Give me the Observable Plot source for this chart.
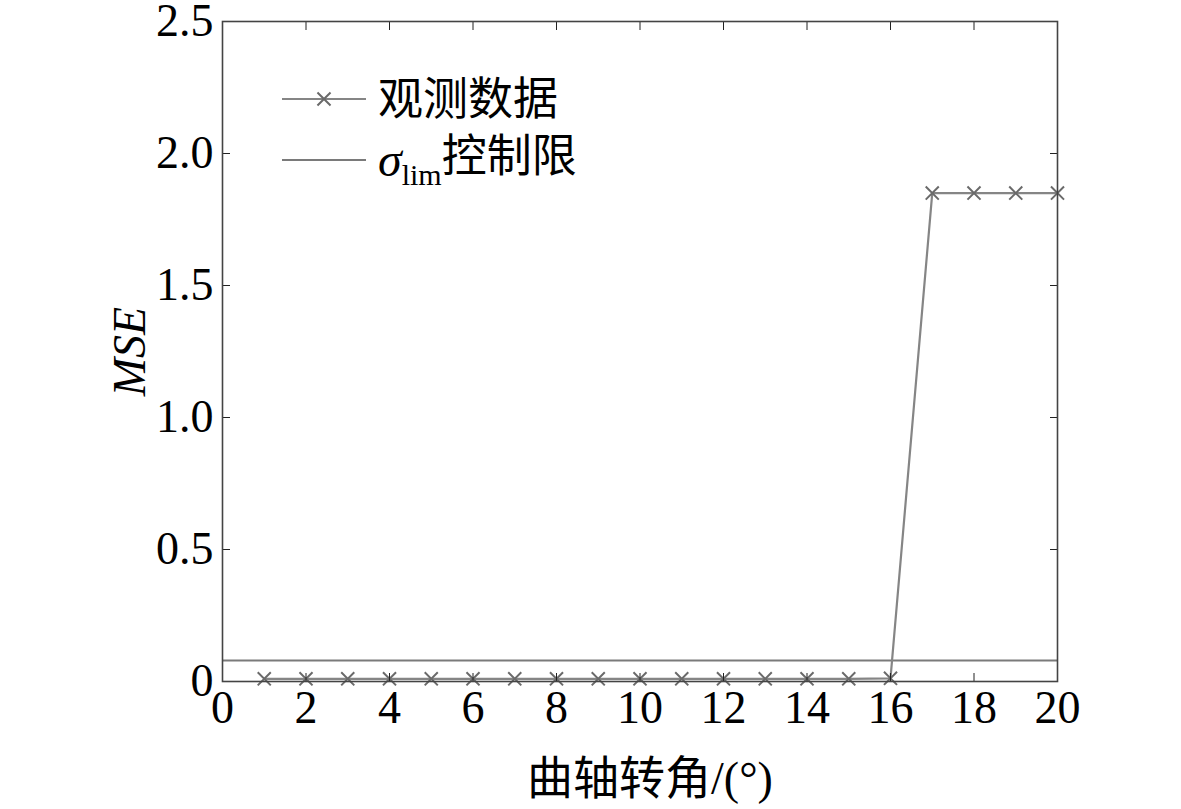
<!DOCTYPE html>
<html><head><meta charset="utf-8">
<script src="https://cdn.jsdelivr.net/npm/d3@7"></script>
<script src="https://cdn.jsdelivr.net/npm/@observablehq/plot@0.6"></script>
<style>
body{margin:0;background:#fff}
#wrap{position:relative;width:1181px;height:809px;overflow:hidden}
#wrap > svg.chart{position:absolute;left:0;top:0;overflow:visible}
#legend{position:absolute;left:0;top:0;pointer-events:none}
g[aria-label="y-axis label"] text{font-style:italic}
</style></head><body>
<div id="wrap"></div>
<script>
// ---- data ----
const angles = [1,2,3,4,5,6,7,8,9,10,11,12,13,14,15,16,17,18,19,20];
const mseValues = [0.01,0.01,0.01,0.01,0.01,0.01,0.01,0.01,0.01,0.01,0.01,0.01,0.01,0.01,0.01,0.012,1.85,1.85,1.85,1.85];
const limitValue = 0.08;
const xTicks = [0,2,4,6,8,10,12,14,16,18,20];
const yTicks = [0,0.5,1,1.5,2,2.5];
const yTickLabels = ["0","0.5","1.0","1.5","2.0","2.5"];
const seriesNames = ["观测数据","控制限"];
const xLabel = "曲轴转角/(°)";
const yLabel = "MSE";

const data = angles.map((a,i)=>({angle:a, mse:mseValues[i]}));
const serif = "'Liberation Serif','Times New Roman','Noto Sans CJK SC',serif";
const fs = 46;

const chart = Plot.plot({
  width:1181, height:809,
  marginLeft:222, marginRight:124, marginTop:21, marginBottom:128,
  x:{domain:[0,20]},
  y:{domain:[0,2.5]},
  style:{fontFamily:serif, fontSize:fs+"px", color:"#000", background:"#fff"},
  marks:[
    Plot.ruleY([limitValue], {stroke:"#7a7a7a", strokeWidth:2}),
    Plot.line(data,{x:"angle", y:"mse", stroke:"#858585", strokeWidth:2.2}),
    Plot.dot(data,{x:"angle", y:"mse", symbol:"times", r:6, stroke:"#6a6a6a", strokeWidth:2}),
    // inward ticks on all four sides
    Plot.axisX(xTicks,{anchor:"bottom", tickSize:-8, fill:"none", stroke:"#222", label:null}),
    Plot.axisX(xTicks,{anchor:"top", tickSize:-8, fill:"none", stroke:"#222", label:null}),
    Plot.axisY(yTicks,{anchor:"left", tickSize:-8, fill:"none", stroke:"#222", label:null}),
    Plot.axisY(yTicks,{anchor:"right", tickSize:-8, fill:"none", stroke:"#222", label:null}),
    // tick labels + axis titles
    Plot.axisX(xTicks,{anchor:"bottom", tickSize:0, tickPadding:9, fontSize:fs, fill:"#000",
      label:xLabel, labelAnchor:"center", labelArrow:"none", labelOffset:112}),
    Plot.axisY(yTicks,{anchor:"left", tickSize:0, tickPadding:9, fontSize:fs, fill:"#000",
      tickFormat:(d)=>yTickLabels[yTicks.indexOf(d)],
      label:yLabel, labelAnchor:"center", labelArrow:"none", labelOffset:110}),
    Plot.frame({stroke:"#444", strokeWidth:1.6})
  ]
});
chart.classList.add("chart");
const wrap = document.getElementById("wrap");
wrap.appendChild(chart);
// nudge the x-axis title slightly right, as in the reference
d3.select(chart).selectAll('g[aria-label="x-axis label"]').each(function(){
  const g = d3.select(this);
  const tr = g.attr("transform") || "";
  g.attr("transform", "translate(10,0) " + tr);
});

// ---- legend overlay ----
const lg = d3.select(wrap).append("svg").attr("id","legend").attr("width",1181).attr("height",809);
const rows = [{y:99, marker:true},{y:160, marker:false}];
rows.forEach((r,i)=>{
  lg.append("line").attr("x1",282).attr("x2",366).attr("y1",r.y).attr("y2",r.y)
    .attr("stroke", i===0 ? "#858585" : "#7a7a7a").attr("stroke-width",2.2);
  if (r.marker) {
    lg.append("path").attr("transform",`translate(324,${r.y})`)
      .attr("d", d3.symbol(d3.symbolTimes, Math.PI*36)())
      .attr("fill","none").attr("stroke","#6a6a6a").attr("stroke-width",2);
  }
});
lg.append("text").attr("x",378).attr("y",99).attr("dy","0.36em")
  .attr("font-family",serif).attr("font-size",45).attr("fill","#000").text(seriesNames[0]);
const t2 = lg.append("text").attr("x",378).attr("y",160).attr("dy","0.36em")
  .attr("font-family",serif).attr("font-size",45).attr("fill","#000");
t2.append("tspan").attr("font-style","italic").attr("font-size",48).text("σ");
t2.append("tspan").attr("font-size",30).attr("dy","0.3em").text("lim");
t2.append("tspan").attr("dy","-0.3em").attr("font-size",45).text(seriesNames[1]);
</script>
</body></html>
